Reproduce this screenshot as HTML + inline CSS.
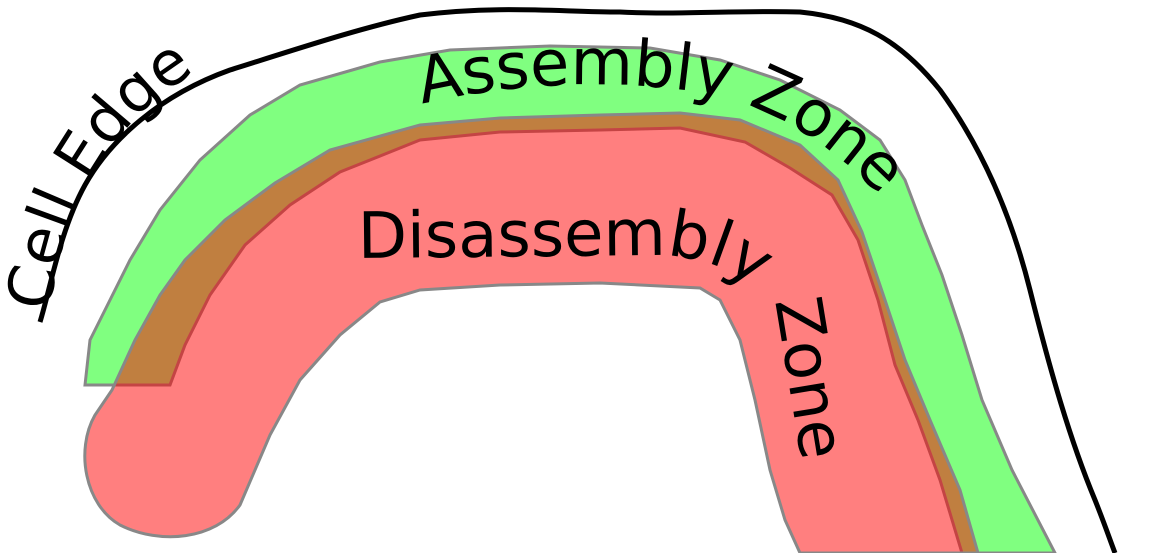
<!DOCTYPE html>
<html><head><meta charset="utf-8"><style>
html,body{margin:0;padding:0;background:#fff;width:1167px;height:553px;overflow:hidden}
svg{display:block}
text{font-family:"DejaVu Sans","Liberation Sans",sans-serif;fill:#000}
</style></head><body>
<svg width="1167" height="553" viewBox="0 0 1167 553">
<defs>
<path id="p-cell" d="M 50 312 Q 68 145 205 66"/>
<path id="p-asm" d="M 422 104 Q 560 72 700 92 Q 810 112 900 218"/>
<path id="p-dis" d="M 358 258 L 650 255 Q 742 255 778 318 L 808 500"/>
</defs>
<path fill="none" stroke="#000" stroke-width="5"
 d="M 40 322 C 50 290 60 230 85 185 C 110 140 160 95 230 70 C 300 48 360 28 420 15 C 500 5 560 12 620 12 C 680 15 740 10 800 12 C 860 18 900 40 940 90 C 980 145 1010 210 1030 290 C 1050 370 1070 440 1095 500 C 1105 525 1110 540 1115 553"/>
<path fill="#80ff80" stroke="#888" stroke-width="3"
 d="M 85 385 L 90 340 L 110 300 L 130 260 L 160 210 L 200 160 L 250 115 L 300 85 L 380 62 L 450 50 L 550 46 L 650 48 L 720 60 L 780 80 L 840 110 L 880 140 L 905 180 L 922 225 L 942 275 L 962 335 L 982 400 L 1012 470 L 1055 553 L 962 553 L 940 480 L 918 420 L 895 365 L 878 300 L 858 240 L 832 195 L 790 168 L 745 142 L 680 128 L 600 130 L 500 132 L 420 140 L 340 172 L 290 205 L 245 245 L 210 295 L 185 345 L 170 385 Z"/>
<path fill="#ff0000" fill-opacity="0.5" stroke="#888" stroke-width="3"
 d="M 112 390 L 135 340 L 160 295 L 185 260 L 225 220 L 275 183 L 330 150 L 420 125 L 500 118 L 600 115 L 680 113 L 740 120 L 800 145 L 838 180 L 862 232 L 885 300 L 905 360 L 930 420 L 960 490 L 978 553 L 800 553 L 785 520 L 770 470 L 755 400 L 740 340 L 720 300 L 700 288 L 600 283 L 500 285 L 420 290 L 380 302 L 340 335 L 300 380 L 270 435 L 240 505 C 215 540 160 545 120 525 C 85 505 75 450 95 415 Z"/>
<text font-size="62"><textPath href="#p-cell">Cell Edge</textPath></text>
<text font-size="64"><textPath href="#p-asm">Assembly Zone</textPath></text>
<text font-size="64"><textPath href="#p-dis">Disassembly Zone</textPath></text>
</svg>
</body></html>
